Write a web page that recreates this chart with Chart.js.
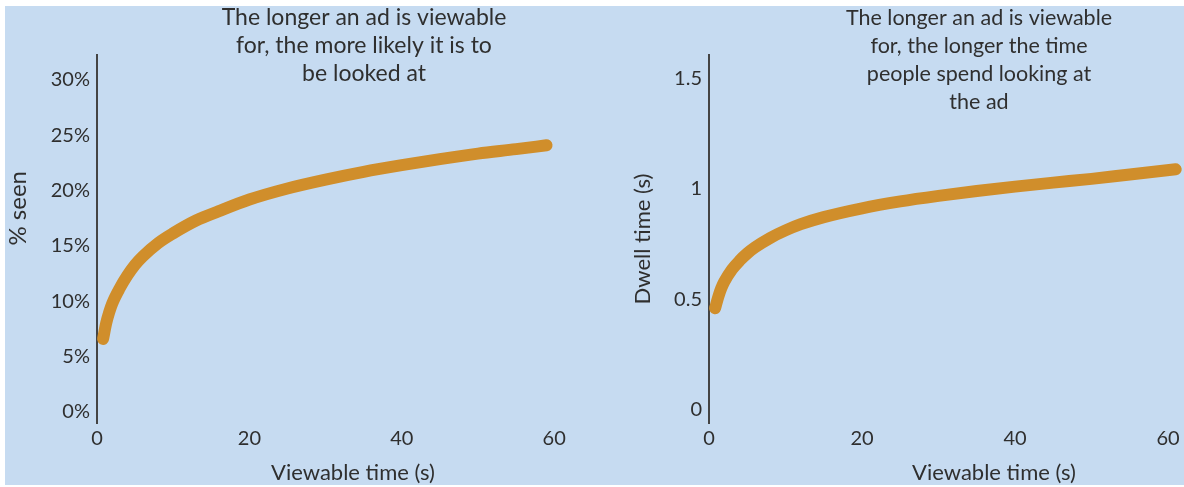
<!DOCTYPE html>
<html>
<head>
<meta charset="utf-8">
<script src="https://cdn.jsdelivr.net/npm/chart.js@4.4.0/dist/chart.umd.min.js"></script>
<style>
  html, body { margin: 0; padding: 0; background: #fff; overflow: hidden; }
  #wrap { position: relative; width: 1184px; height: 487px; overflow: hidden; background: #fff; }
  #panel { position: absolute; left: 5px; top: 6px; width: 1179px; height: 479px; background: #c6dbf1; }
  #seen { position: absolute; left: 0; top: 0; }
  #dwell { position: absolute; left: 612px; top: 0; }
</style>
</head>
<body>
<div id="wrap">
  <div id="panel"></div>
  <canvas id="seen" width="609" height="487"></canvas>
  <canvas id="dwell" width="667" height="487"></canvas>
</div>
<script>
// values
const xSeen = [0.8, 1.2, 1.6, 2, 3, 4, 5, 6, 8, 10, 13, 16, 20, 25, 30, 35, 40, 45, 50, 55, 59];
const pctSeen = [6.6, 8.0, 9.0, 9.8, 11.2, 12.35, 13.3, 14.05, 15.25, 16.15, 17.3, 18.15, 19.2, 20.2, 21.0, 21.7, 22.3, 22.85, 23.35, 23.75, 24.1];

const xDwell = [0.8, 1.2, 1.6, 2, 3, 4, 5, 6, 8, 10, 12, 15, 20, 25, 30, 35, 40, 45, 50, 55, 61];
const dwellTime = [0.46, 0.51, 0.55, 0.58, 0.635, 0.675, 0.708, 0.735, 0.778, 0.812, 0.84, 0.872, 0.912, 0.943, 0.968, 0.99, 1.01, 1.028, 1.045, 1.065, 1.088];

const xTicks = [0, 20, 40, 60];
const seenTicks = [0, 5, 10, 15, 20, 25, 30];
const dwellTicks = [0, 0.5, 1, 1.5];

const titleSeen = ['The longer an ad is viewable', 'for, the more likely it is to', 'be looked at'];
const titleDwell = ['The longer an ad is viewable', 'for, the longer the time', 'people spend looking at', 'the ad'];

const ink = '#2f2f2f';
const orange = '#d08e2b';
const fontFamily = 'Lato, "Open Sans", sans-serif';

// multi-line heading drawn over the empty top of the plot
const topTitle = {
  id: 'topTitle',
  afterDraw(chart, args, o) {
    const ctx = chart.ctx;
    ctx.save();
    ctx.font = o.size + 'px ' + fontFamily;
    ctx.fillStyle = ink;
    ctx.textAlign = 'center';
    ctx.textBaseline = 'middle';
    o.lines.forEach((t, i) => ctx.fillText(t, o.x, o.y + i * o.gap));
    ctx.restore();
  }
};

function makeChart(id, xs, ys, cfg) {
  const ctx = document.getElementById(id).getContext('2d');
  return new Chart(ctx, {
    type: 'line',
    data: {
      datasets: [{
        data: xs.map((x, i) => ({ x: x, y: ys[i] })),
        borderColor: orange,
        borderWidth: 12,
        borderCapStyle: 'round',
        borderJoinStyle: 'round',
        cubicInterpolationMode: 'monotone',
        pointRadius: 0,
        fill: false,
        clip: false
      }]
    },
    options: {
      responsive: false,
      animation: false,
      devicePixelRatio: 1,
      layout: { padding: { top: 55, left: 0, right: 0, bottom: 0 } },
      plugins: {
        legend: { display: false },
        tooltip: { enabled: false },
        topTitle: { lines: cfg.title, x: cfg.titleX, y: 18, gap: 28, size: cfg.titleSize }
      },
      scales: {
        x: {
          type: 'linear',
          min: 0,
          max: cfg.xMax,
          grid: { display: false, drawTicks: false },
          border: { display: false },
          afterBuildTicks: (s) => { s.ticks = xTicks.map(v => ({ value: v })); },
          afterFit: (s) => { s.height = 64; },
          ticks: { color: ink, padding: 4, font: { family: fontFamily, size: 20 } },
          title: {
            display: true, text: 'Viewable time (s)', color: ink,
            font: { family: fontFamily, size: 22 }, padding: { top: 0, bottom: 1 }
          }
        },
        y: {
          min: cfg.yMin,
          max: cfg.yMax,
          grid: { display: false, drawTicks: false },
          border: { display: true, color: '#444', width: 2 },
          afterBuildTicks: (s) => { s.ticks = cfg.yTicks.map(v => ({ value: v })); },
          afterFit: (s) => { s.width = 97; },
          ticks: {
            color: ink, padding: 7, font: { family: fontFamily, size: 20 },
            callback: cfg.yFormat
          },
          title: {
            display: true, text: cfg.yTitle, color: ink,
            font: { family: fontFamily, size: cfg.yTitleSize }, padding: { top: cfg.yTitlePad, bottom: 0 }
          }
        }
      }
    },
    plugins: [topTitle]
  });
}

makeChart('seen', xSeen, pctSeen, {
  title: titleSeen, titleX: 364, titleSize: 23,
  xMax: 67.2, yMin: -1.0, yMax: 32.26, yTicks: seenTicks,
  yFormat: (v) => v + '%',
  // leading blanks lift the rotated label toward the upper half like the source
  yTitle: '          % seen', yTitleSize: 24, yTitlePad: 4
});

makeChart('dwell', xDwell, dwellTime, {
  title: titleDwell, titleX: 979 - 612, titleSize: 21.5,
  xMax: 74.5, yMin: -0.059, yMax: 1.605, yTicks: dwellTicks,
  yFormat: (v) => String(v),
  yTitle: 'Dwell time (s)', yTitleSize: 22, yTitlePad: 18
});
</script>
</body>
</html>
